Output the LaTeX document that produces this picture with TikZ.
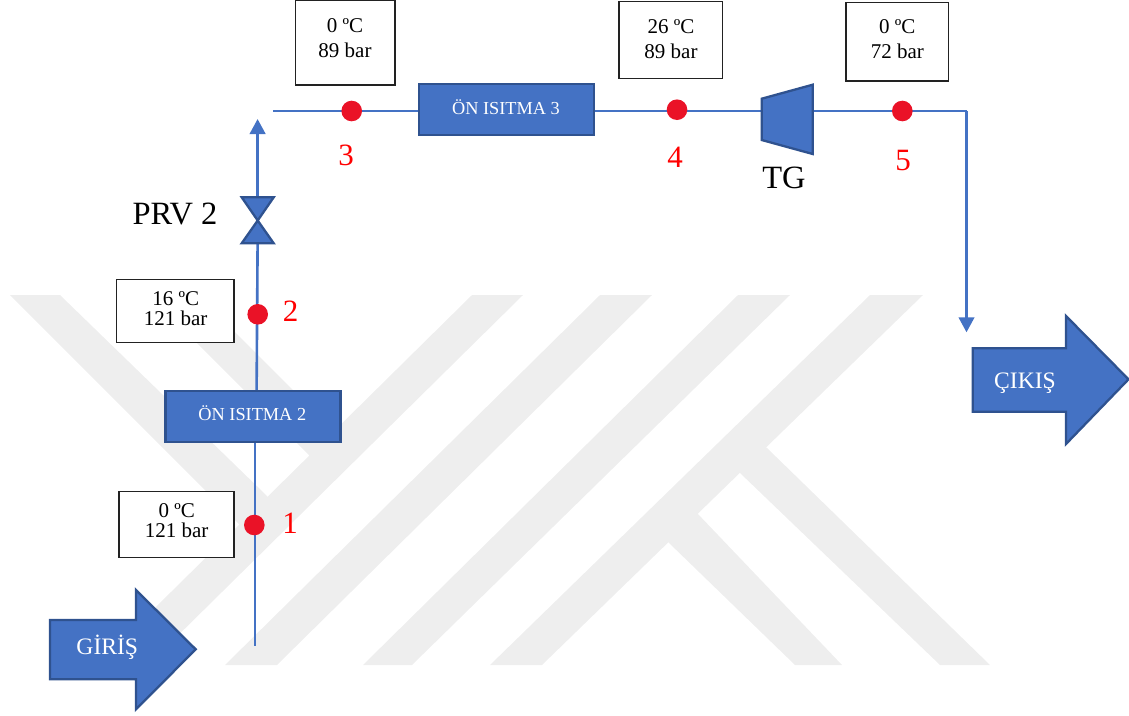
\documentclass[tikz,border=0pt]{standalone}
\usepackage{fontspec}
\setmainfont{Liberation Serif}
\usetikzlibrary{arrows.meta}
\definecolor{pipeblue}{HTML}{4472C4}
\definecolor{edgeblue}{HTML}{2F528F}
\definecolor{dotred}{HTML}{EA1227}
\definecolor{wmgrey}{HTML}{EEEEEE}
\definecolor{boxedge}{HTML}{222222}
\tikzset{
  pipe/.style={draw=pipeblue,line width=2.6pt},
  pipearrow/.style={pipe,-{Triangle[length=15pt,width=15.5pt]}},
  solidblue/.style={fill=pipeblue,draw=edgeblue,line width=2.3pt,line join=miter},
  heater/.style={solidblue,minimum width=175pt,minimum height=51pt,inner sep=0pt,outer sep=0pt},
  heatertext/.style={text=white,font=\fontsize{18.3}{20}\selectfont,inner sep=0pt,anchor=base},
  arrowtext/.style={text=white,font=\fontsize{23.6}{26}\selectfont,inner sep=0pt,anchor=base},
  databox/.style={draw=boxedge,fill=white,line width=1.3pt,inner sep=0pt,outer sep=0pt},
  datatext/.style={text=black,inner sep=0pt,align=center},
  wide/.style={font=\fontsize{21}{25}\selectfont},
  tight/.style={font=\fontsize{21}{20}\selectfont},
  probe/.style={circle,fill=dotred,minimum size=20.6pt,inner sep=0pt,outer sep=0pt},
  probenum/.style={text=red,inner sep=0pt,font=\fontsize{31}{34}\selectfont},
  biglabel/.style={text=black,inner sep=0pt,font=\fontsize{32.5}{36}\selectfont},
  wm/.style={fill=wmgrey,draw=none}
}
\begin{document}
\begin{tikzpicture}[x=1pt,y=-1pt]
\useasboundingbox (0,0) rectangle (1129,715);
% watermark
\fill[wm] (472,295)--(523,295)--(148,665)--(97,665)--cycle;
\fill[wm] (600,295)--(652,295)--(277,665)--(225,665)--cycle;
\fill[wm] (738,295)--(790,295)--(412,665)--(363,665)--cycle;
\fill[wm] (870,295)--(923,295)--(542,665)--(490,665)--cycle;
\fill[wm] (10,295)--(60,295)--(265,494)--(275,505)--(245,530)--(237,522)--cycle;
\fill[wm] (149,295)--(198,295)--(331,428)--(340,440)--(315,462)--(307,453)--cycle;
\fill[wm] (767,448)--(990,665)--(940,665)--(740,473)--(730,460)--(750,432)--cycle;
\fill[wm] (697,513)--(842,665)--(795,665)--(668,542)--(660,530)--(680,497)--cycle;
% free ends and valve / turbine ports
\coordinate (inlet) at (255,645.7);
\coordinate (upper) at (257.6,119);
\coordinate (topstart) at (273.3,111);
\coordinate (corner) at (966.5,111);
\coordinate (outlet) at (966.5,332.3);
\coordinate (valvebot) at (257.6,243.3);
\coordinate (valvetop) at (257.6,197.3);
\coordinate (turbin) at (761.7,111);
\coordinate (turbout) at (812.7,111);
% equipment nodes
\node[heater] (h2) at (253,416.5) {};
\node[heater] (h3) at (506.8,109.5) {};
% pipes
\draw[pipe] (inlet) -- (inlet |- h2.south);
\draw[pipe] (h2.north -| valvebot) ++(-1,0) -- (valvebot);
\draw[pipearrow] (valvetop) -- (upper);
\draw[pipe] (topstart) -- (topstart -| h3.west);
\draw[pipe] (h3.east |- turbin) -- (turbin);
\draw[pipe] (turbout) -- (corner);
\draw[pipearrow] (corner) -- (outlet);
% re-draw equipment above pipes
\node[heater] at (h2) {};
\node[heater] at (h3) {};
\node[heatertext] (h2t) at (252.3,420) {ÖN ISITMA 2};
\node[heatertext] (h3t) at (506,114) {ÖN ISITMA 3};
% valve
\path[solidblue] (241.7,197.3) -- (273.7,197.3) -- (257.7,220.5) -- (241.7,243.3) -- (273.7,243.3) -- (257.7,220.5) -- cycle;
\node[biglabel] (prv) at (175,214) {PRV 2};
% turbine
\path[solidblue] (761.7,98.7) -- (812.7,84.7) -- (812.7,154) -- (761.7,140) -- cycle;
\node[biglabel] (tg) at (784,178) {TG};
% inlet and outlet arrows
\path[solidblue] (50,620) -- (136,620) -- (136,590) -- (195.7,649.3) -- (136,709.3) -- (136,679.3) -- (50,679.3) -- cycle;
\node[arrowtext] (giris) at (107.3,654.3) {GİRİŞ};
\path[solidblue] (972.7,348.3) -- (1066,348.3) -- (1066,316) -- (1128.5,379.3) -- (1066,444) -- (1066,411.7) -- (972.7,411.7) -- cycle;
\node[arrowtext] (cikis) at (1025,388.3) {ÇIKIŞ};
% data boxes
\node[databox,minimum width=99.7pt,minimum height=84.3pt] (b3) at (345.15,42.85) {};
\node[databox,minimum width=103.7pt,minimum height=76.6pt] (b4) at (670.85,40) {};
\node[databox,minimum width=102.3pt,minimum height=78.7pt] (b5) at (897.15,41.65) {};
\node[databox,minimum width=117.3pt,minimum height=63.4pt] (b2) at (175.35,311) {};
\node[databox,minimum width=115pt,minimum height=65.6pt] (b1) at (176.5,524.5) {};
\node[datatext,wide] (t3) at (345,38) {0 ºC\\89 bar};
\node[datatext,wide] (t4) at (671,39.5) {26 ºC\\89 bar};
\node[datatext,wide] (t5) at (897.3,39.5) {0 ºC\\72 bar};
\node[datatext,tight] (t2) at (175.7,309) {16 ºC\\121 bar};
\node[datatext,tight] (t1) at (176.7,520.5) {0 ºC\\121 bar};
% measuring points
\node[probe] (p1) at (254.3,525) {};
\node[probe] (p2) at (257.7,314.3) {};
\node[probe] (p3) at (351.7,111) {};
\node[probe] (p4) at (677,109.7) {};
\node[probe] (p5) at (902.3,111) {};
\node[probenum] (n1) at (290,523.5) {1};
\node[probenum] (n2) at (290.7,311) {2};
\node[probenum] (n3) at (346,155) {3};
\node[probenum] (n4) at (675,157) {4};
\node[probenum] (n5) at (903,160) {5};
\end{tikzpicture}
\end{document}
